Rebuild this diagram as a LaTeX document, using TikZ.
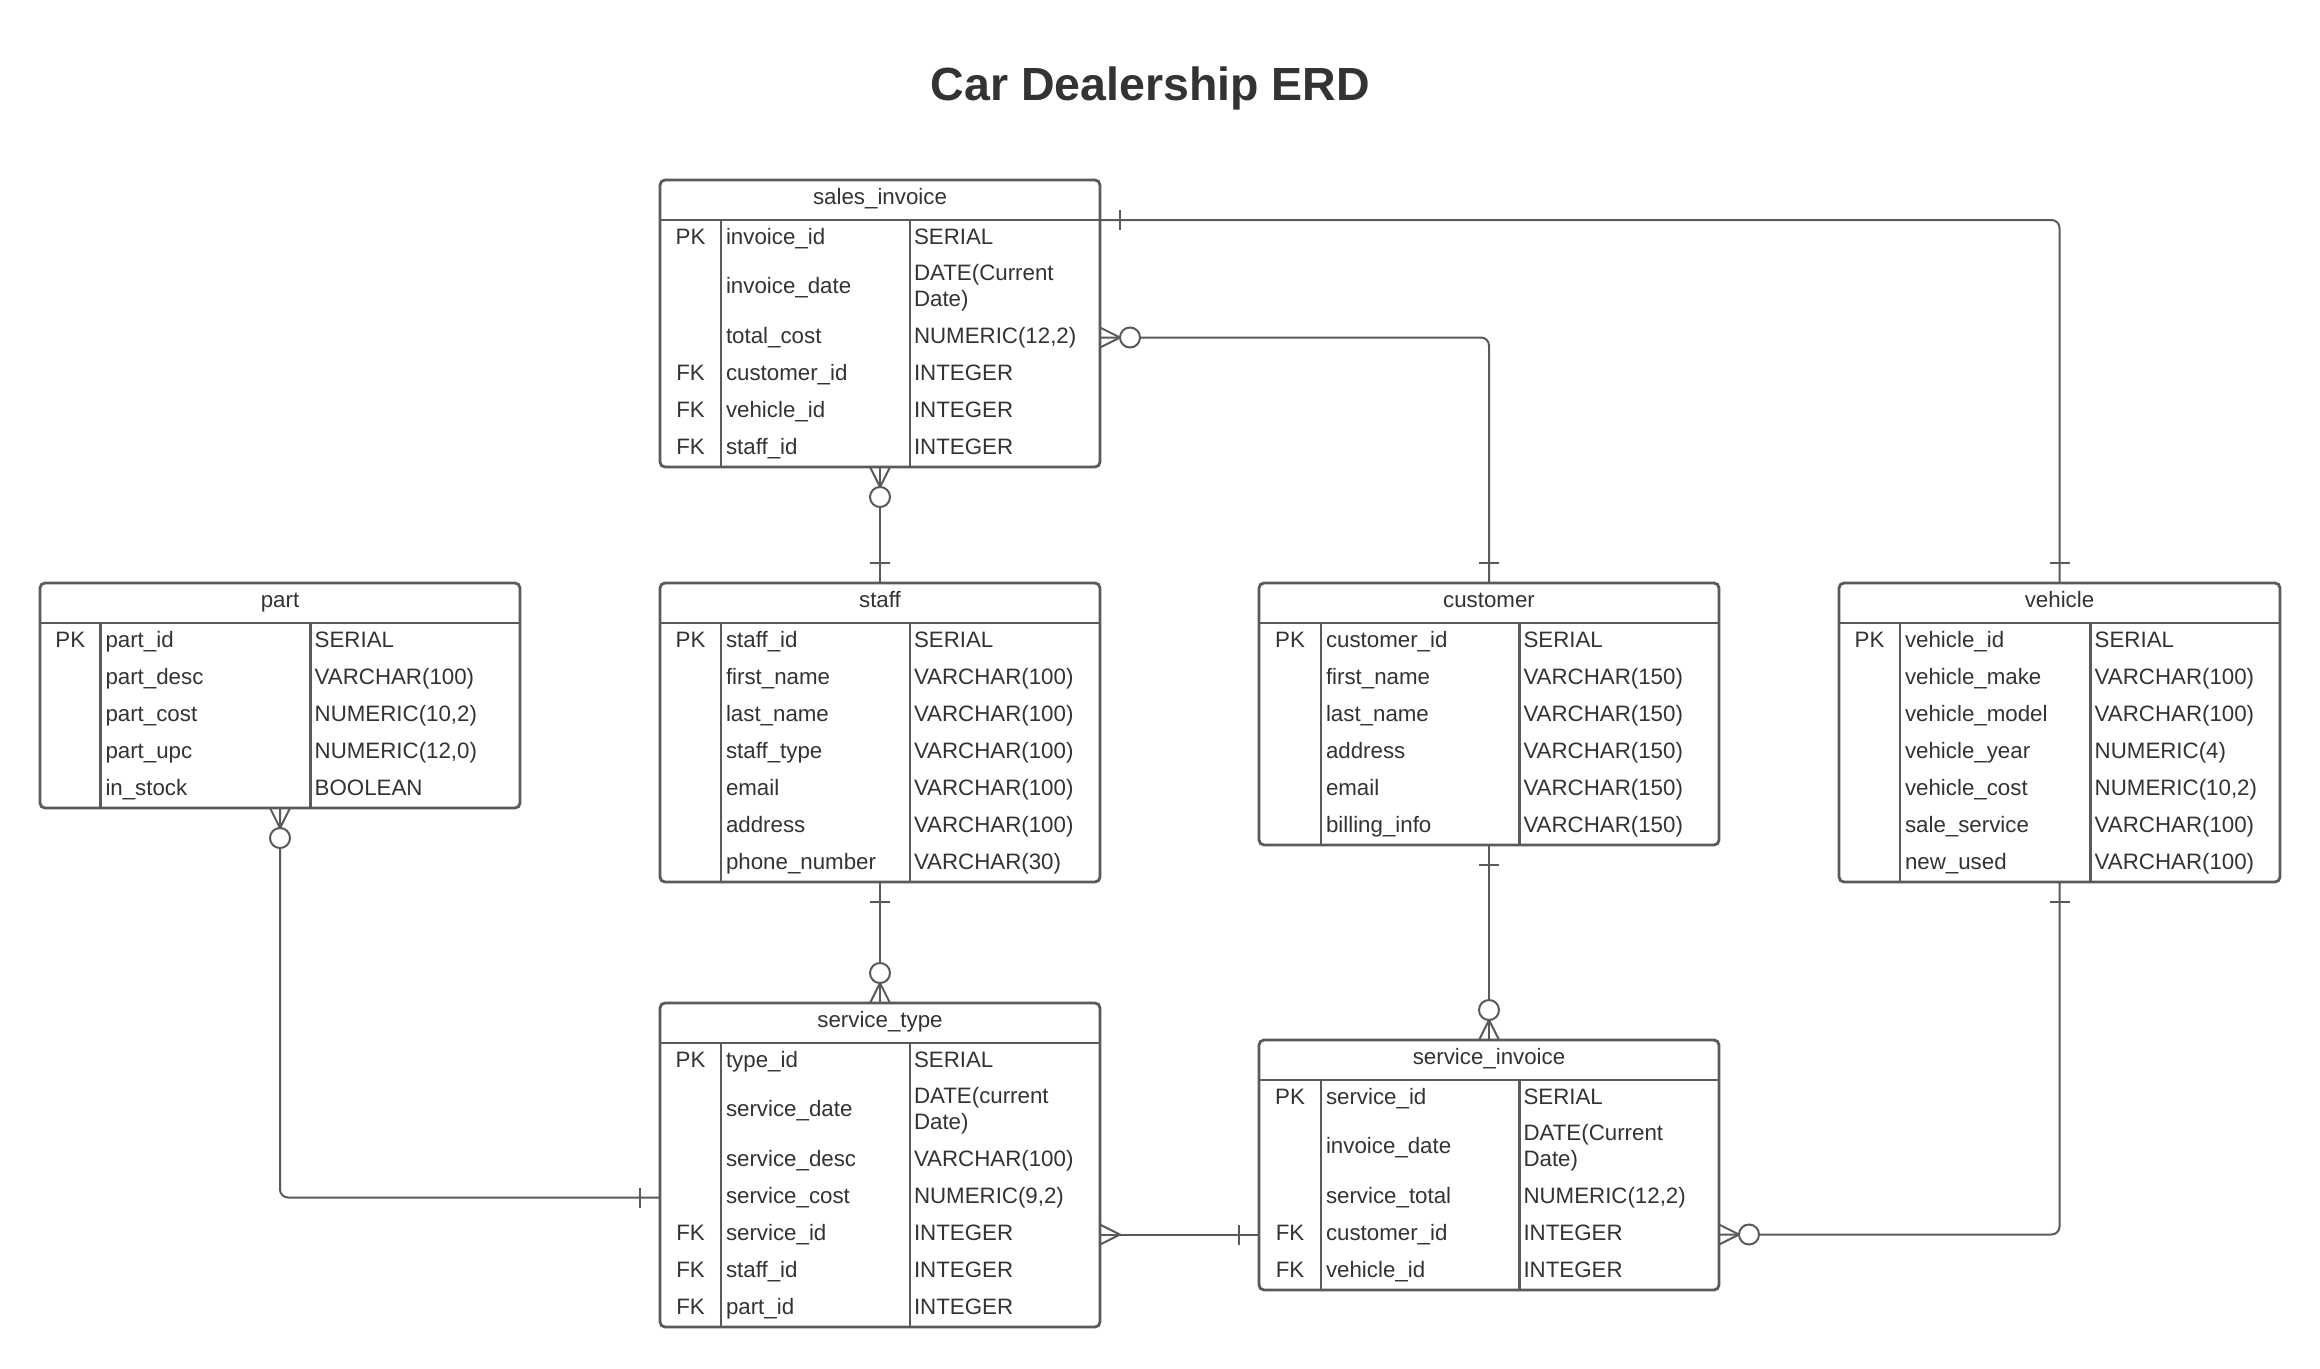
\documentclass[tikz,border=0pt]{standalone}
\usepackage{fontspec}
\setmainfont{Liberation Sans}
\usetikzlibrary{calc}
\definecolor{ln}{HTML}{5A5A5A}
\definecolor{tx}{HTML}{333333}
\tikzset{
  tbl/.style={draw=ln, line width=2.8pt, rounded corners=5pt, inner sep=0pt, outer sep=0pt, anchor=north west, fill=white},
  sepline/.style={draw=ln, line width=2.8pt},
  txt/.style={text=tx, font=\fontsize{22.3}{26}\selectfont, inner sep=0pt, outer sep=0pt},
  conn/.style={draw=ln, line width=2pt, rounded corners=8pt},
  markline/.style={draw=ln, line width=2pt},
}
\newcommand\erdtable[8]{% name, left, top, width, height, c1, c2, title
  \node[tbl, minimum width=#4pt, minimum height=#5pt] (#1) at (#2,#3) {};
  \coordinate (#1-hd) at ($(#1.north west)+(0,40)$);
  \draw[sepline] (#1-hd) -- ($(#1.north east)+(0,40)$);
  \draw[sepline] ($(#1.north west)+(#6,40)$) -- ($(#1.south west)+(#6,0)$);
  \draw[sepline] ($(#1.north west)+(#7,40)$) -- ($(#1.south west)+(#7,0)$);
  \node[txt, anchor=base] (#1-title) at ($(#1.north)+(0,24)$) {#8};
  \gdef\cA{#6}\gdef\cB{#7}%
}
\newcommand\erdrow[6]{% table, id, top offset, key, field, type
  \coordinate (#1-#2) at ($(#1.north west)+(0,#3+18.5)$);
  \node[txt, anchor=base] (#1-#2k) at ($(#1.north west)+(\cA/2,#3+24.2)$) {#4};
  \node[txt, anchor=base west] (#1-#2f) at ($(#1.north west)+(\cA+5,#3+24.2)$) {#5};
  \node[txt, anchor=base west] (#1-#2t) at ($(#1.north west)+(\cB+4,#3+24.2)$) {#6};
}
\newcommand\erdrowtwo[5]{% table, id, top offset, field, type line 1
  \coordinate (#1-#2) at ($(#1.north west)+(0,#3+31)$);
  \node[txt, anchor=base west] (#1-#2f) at ($(#1.north west)+(\cA+5,#3+36.5)$) {#4};
  \node[txt, anchor=base west] (#1-#2t) at ($(#1.north west)+(\cB+4,#3+23)$) {#5};
  \node[txt, anchor=base west] (#1-#2u) at ($(#1.north west)+(\cB+4,#3+49.5)$) {Date)};
}
\newcommand\onebar[2]{\begin{scope}[shift={#1}, rotate=#2]
  \draw[markline] (20,-10) -- (20,10);
\end{scope}}
\newcommand\crowzero[2]{\begin{scope}[shift={#1}, rotate=#2]
  \draw[markline] (0,-10) -- (20,0) -- (0,10);
  \draw[markline, fill=white] (30,0) circle[radius=10pt];
\end{scope}}
\newcommand\crowmany[2]{\begin{scope}[shift={#1}, rotate=#2]
  \draw[markline] (0,-10) -- (20,0) -- (0,10);
\end{scope}}

\begin{document}
\begin{tikzpicture}[x=1pt, y=-1pt]
\fill[white] (0,0) rectangle (2320,1368);
\useasboundingbox (0,0) rectangle (2320,1368);

\node[text=tx, font=\fontsize{46.5}{56}\selectfont\bfseries, anchor=base, inner sep=0pt] (title) at (1150.5,100) {Car Dealership ERD};

% sales_invoice
\erdtable{si}{660}{180}{440}{287}{61}{250}{sales\_invoice}
\erdrow{si}{1}{40}{PK}{invoice\_id}{SERIAL}
\erdrowtwo{si}{2}{77}{invoice\_date}{DATE(Current}
\erdrow{si}{3}{139}{}{total\_cost}{NUMERIC(12,2)}
\erdrow{si}{4}{176}{FK}{customer\_id}{INTEGER}
\erdrow{si}{5}{213}{FK}{vehicle\_id}{INTEGER}
\erdrow{si}{6}{250}{FK}{staff\_id}{INTEGER}

% part
\erdtable{part}{40}{583}{480}{225}{60.5}{270.7}{part}
\erdrow{part}{1}{40}{PK}{part\_id}{SERIAL}
\erdrow{part}{2}{77}{}{part\_desc}{VARCHAR(100)}
\erdrow{part}{3}{114}{}{part\_cost}{NUMERIC(10,2)}
\erdrow{part}{4}{151}{}{part\_upc}{NUMERIC(12,0)}
\erdrow{part}{5}{188}{}{in\_stock}{BOOLEAN}

% staff
\erdtable{staff}{660}{583}{440}{299}{61}{250}{staff}
\erdrow{staff}{1}{40}{PK}{staff\_id}{SERIAL}
\erdrow{staff}{2}{77}{}{first\_name}{VARCHAR(100)}
\erdrow{staff}{3}{114}{}{last\_name}{VARCHAR(100)}
\erdrow{staff}{4}{151}{}{staff\_type}{VARCHAR(100)}
\erdrow{staff}{5}{188}{}{email}{VARCHAR(100)}
\erdrow{staff}{6}{225}{}{address}{VARCHAR(100)}
\erdrow{staff}{7}{262}{}{phone\_number}{VARCHAR(30)}

% customer
\erdtable{cust}{1259}{583}{460}{262}{62}{260.5}{customer}
\erdrow{cust}{1}{40}{PK}{customer\_id}{SERIAL}
\erdrow{cust}{2}{77}{}{first\_name}{VARCHAR(150)}
\erdrow{cust}{3}{114}{}{last\_name}{VARCHAR(150)}
\erdrow{cust}{4}{151}{}{address}{VARCHAR(150)}
\erdrow{cust}{5}{188}{}{email}{VARCHAR(150)}
\erdrow{cust}{6}{225}{}{billing\_info}{VARCHAR(150)}

% vehicle
\erdtable{veh}{1839}{583}{441}{299}{61}{251.7}{vehicle}
\erdrow{veh}{1}{40}{PK}{vehicle\_id}{SERIAL}
\erdrow{veh}{2}{77}{}{vehicle\_make}{VARCHAR(100)}
\erdrow{veh}{3}{114}{}{vehicle\_model}{VARCHAR(100)}
\erdrow{veh}{4}{151}{}{vehicle\_year}{NUMERIC(4)}
\erdrow{veh}{5}{188}{}{vehicle\_cost}{NUMERIC(10,2)}
\erdrow{veh}{6}{225}{}{sale\_service}{VARCHAR(100)}
\erdrow{veh}{7}{262}{}{new\_used}{VARCHAR(100)}

% service_type
\erdtable{st}{660}{1003}{440}{324}{61}{250}{service\_type}
\erdrow{st}{1}{40}{PK}{type\_id}{SERIAL}
\erdrowtwo{st}{2}{77}{service\_date}{DATE(current}
\erdrow{st}{3}{139}{}{service\_desc}{VARCHAR(100)}
\erdrow{st}{4}{176}{}{service\_cost}{NUMERIC(9,2)}
\erdrow{st}{5}{213}{FK}{service\_id}{INTEGER}
\erdrow{st}{6}{250}{FK}{staff\_id}{INTEGER}
\erdrow{st}{7}{287}{FK}{part\_id}{INTEGER}

% service_invoice
\erdtable{sv}{1259}{1040}{460}{250}{62}{260.5}{service\_invoice}
\erdrow{sv}{1}{40}{PK}{service\_id}{SERIAL}
\erdrowtwo{sv}{2}{77}{invoice\_date}{DATE(Current}
\erdrow{sv}{3}{139}{}{service\_total}{NUMERIC(12,2)}
\erdrow{sv}{4}{176}{FK}{customer\_id}{INTEGER}
\erdrow{sv}{5}{213}{FK}{vehicle\_id}{INTEGER}

% connectors
\draw[conn] (si.east |- si-hd) -- (veh.north |- si-hd) -- (veh.north);
\draw[conn] (si.east |- si-3) -- (cust.north |- si-3) -- (cust.north);
\draw[conn] (si.south) -- (staff.north);
\draw[conn] (staff.south) -- (st.north);
\draw[conn] (part.south) -- (part.south |- st-4) -- (st.west |- st-4);
\draw[conn] (st.east |- st-5) -- (sv.west |- st-5);
\draw[conn] (cust.south) -- (sv.north);
\draw[conn] (veh.south) -- (veh.south |- sv-4) -- (sv.east |- sv-4);

% end marks
\onebar{(si.east |- si-hd)}{0}
\onebar{(veh.north)}{90}
\crowzero{(si.east |- si-3)}{0}
\onebar{(cust.north)}{90}
\crowzero{(si.south)}{-90}
\onebar{(staff.north)}{90}
\onebar{(staff.south)}{-90}
\crowzero{(st.north)}{90}
\crowzero{(part.south)}{-90}
\onebar{(st.west |- st-4)}{180}
\crowmany{(st.east |- st-5)}{0}
\onebar{(sv.west |- st-5)}{180}
\onebar{(cust.south)}{-90}
\crowzero{(sv.north)}{90}
\onebar{(veh.south)}{-90}
\crowzero{(sv.east |- sv-4)}{0}
\end{tikzpicture}
\end{document}
